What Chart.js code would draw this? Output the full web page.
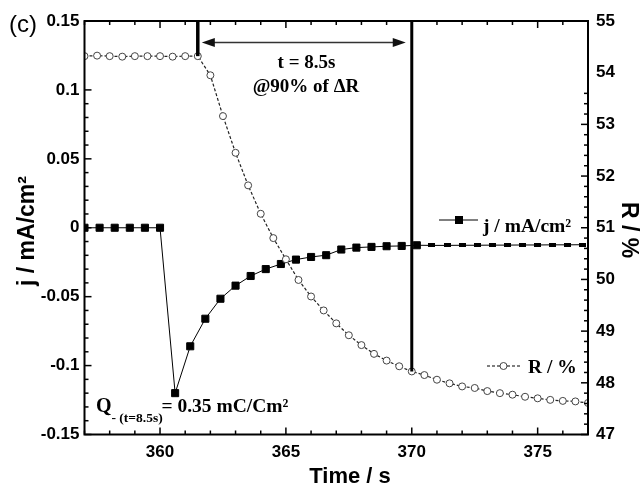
<!DOCTYPE html>
<html>
<head>
<meta charset="utf-8">
<script src="https://cdn.jsdelivr.net/npm/chart.js@4.4.1/dist/chart.umd.min.js"></script>
<style>
   html, body { margin: 0; padding: 0; background: #fff; }
   #wrap { width: 642px; height: 485px; }
</style>
</head>
<body>
<div id="wrap"><canvas id="chart" width="642" height="485"></canvas></div>
<script>
// current density j (mA/cm2), sampled every 0.6 s
var timeJ = [357, 357.6, 358.2, 358.8, 359.4, 360, 360.6, 361.2, 361.8, 362.4,
   363, 363.6, 364.2, 364.8, 365.4, 366, 366.6, 367.2, 367.8, 368.4,
   369, 369.6, 370.2, 370.8, 371.4, 372, 372.6, 373.2, 373.8, 374.4,
   375, 375.6, 376.2, 376.8];
var currentJ = [0, 0, 0, 0, 0, 0, -0.12, -0.086, -0.066, -0.0515,
   -0.042, -0.035, -0.030, -0.0263, -0.0231, -0.0212, -0.0199, -0.0158, -0.0144, -0.0139,
   -0.0134, -0.0132, -0.0127, -0.0128, -0.0128, -0.0127, -0.0127, -0.0126, -0.0126, -0.0125,
   -0.0125, -0.0124, -0.0124, -0.0123];

// reflectance R (%), sampled every 0.5 s
var timeR = [357, 357.5, 358, 358.5, 359, 359.5, 360, 360.5, 361, 361.5,
   362, 362.5, 363, 363.5, 364, 364.5, 365, 365.5, 366, 366.5,
   367, 367.5, 368, 368.5, 369, 369.5, 370, 370.5, 371, 371.5,
   372, 372.5, 373, 373.5, 374, 374.5, 375, 375.5, 376, 376.5, 377];
var reflR = [54.32, 54.33, 54.32, 54.31, 54.32, 54.32, 54.32, 54.31, 54.32, 54.32,
   53.95, 53.16, 52.45, 51.82, 51.27, 50.80, 50.39, 49.99, 49.67, 49.40,
   49.15, 48.92, 48.73, 48.56, 48.43, 48.32, 48.22, 48.15, 48.06, 47.99,
   47.93, 47.90, 47.84, 47.80, 47.77, 47.73, 47.70, 47.67, 47.65, 47.64, 47.61];

// labelled ticks on the time axis
var timeTicks = [360, 365, 370, 375];

// response window: start of switching and 90% of delta R
var tStart = 361.5;
var tEnd = 370;

var sans = '"Liberation Sans", Arial, sans-serif';
var serif = '"Liberation Serif", "Times New Roman", serif';

// small dash used for the last j points
var dashMark = document.createElement('canvas');
dashMark.width = 7;
dashMark.height = 4;
var dctx = dashMark.getContext('2d');
dctx.fillStyle = '#000';
dctx.fillRect(0, 0, 7, 4);

function toPoints(xs, ys) {
   var pts = [];
   for (var i = 0; i < xs.length; i++) {
      pts.push({ x: xs[i], y: ys[i] });
   }
   return pts;
}

function valueAt(xs, ys, t) {
   for (var i = 0; i < xs.length; i++) {
      if (Math.abs(xs[i] - t) < 1e-6) return ys[i];
   }
   return ys[ys.length - 1];
}

/* draws inward ticks for one side of the frame */
function drawTicks(ctx, scale, from, count, step, side, area) {
   for (var i = 0; i <= count; i++) {
      var v = from + i * step;
      var len = (i % 5 === 0) ? 7 : 4;
      var p = scale.getPixelForValue(v);
      if (p < area.left - 1 || p > area.right + 1) continue;
      ctx.beginPath();
      if (side === 'bottom') { ctx.moveTo(p, area.bottom); ctx.lineTo(p, area.bottom - len); }
      if (side === 'top') { ctx.moveTo(p, area.top); ctx.lineTo(p, area.top + len); }
      if (side === 'left') { ctx.moveTo(area.left, p); ctx.lineTo(area.left + len, p); }
      if (side === 'right') { ctx.moveTo(area.right, p); ctx.lineTo(area.right - len, p); }
      ctx.stroke();
   }
}

var framePlugin = {
   id: 'frame',
   afterDraw: function(chart) {
      var ctx = chart.ctx;
      var a = chart.chartArea;
      var xs = chart.scales.x, ys = chart.scales.y, rs = chart.scales.y1;

      ctx.save();
      ctx.strokeStyle = '#000';
      ctx.lineWidth = 1.5;
      // x ticks counted from 355 so majors (every 5th) land on 360, 365 ...
      drawTicks(ctx, xs, 355, 25, 1, 'bottom', a);
      drawTicks(ctx, xs, 355, 25, 1, 'top', a);
      drawTicks(ctx, ys, -0.15, 30, 0.01, 'left', a);
      drawTicks(ctx, rs, 47, 40, 0.2, 'right', a);

      ctx.lineWidth = 2;
      ctx.strokeRect(a.left, a.top, a.right - a.left, a.bottom - a.top);

      // thick markers at start and 90% point
      var x1 = xs.getPixelForValue(tStart);
      var x2 = xs.getPixelForValue(tEnd);
      ctx.lineWidth = 3.5;
      ctx.beginPath();
      ctx.moveTo(x1, a.top);
      ctx.lineTo(x1, rs.getPixelForValue(valueAt(timeR, reflR, tStart)));
      ctx.stroke();
      ctx.lineWidth = 3;
      ctx.beginPath();
      ctx.moveTo(x2, a.top);
      ctx.lineTo(x2, rs.getPixelForValue(valueAt(timeR, reflR, tEnd)));
      ctx.stroke();

      // double arrow between markers
      var ay = 42.5;
      var l = x1 + 4, r = x2 - 6;
      ctx.strokeStyle = '#333';
      ctx.fillStyle = '#111';
      ctx.lineWidth = 1.5;
      ctx.beginPath();
      ctx.moveTo(l + 8, ay);
      ctx.lineTo(r - 8, ay);
      ctx.stroke();
      ctx.beginPath();
      ctx.moveTo(l, ay); ctx.lineTo(l + 13, ay - 4.5); ctx.lineTo(l + 13, ay + 4.5);
      ctx.closePath(); ctx.fill();
      ctx.beginPath();
      ctx.moveTo(r, ay); ctx.lineTo(r - 13, ay - 4.5); ctx.lineTo(r - 13, ay + 4.5);
      ctx.closePath(); ctx.fill();

      ctx.fillStyle = '#000';
      ctx.textBaseline = 'alphabetic';

      // annotation text
      ctx.textAlign = 'center';
      ctx.font = 'bold 19px ' + serif;
      ctx.fillText('t = 8.5s', 306.5, 68);
      ctx.fillText('@90% of \u0394R', 306, 92);

      ctx.textAlign = 'left';
      ctx.font = 'bold 20px ' + serif;
      ctx.fillText('Q', 96, 411.5);
      ctx.font = 'bold 13.5px ' + serif;
      ctx.fillText('- (t=8.5s)', 111.5, 422);
      ctx.font = 'bold 19.5px ' + serif;
      ctx.fillText('= 0.35 mC/Cm\u00b2', 161.5, 411.5);

      // legend
      ctx.font = 'bold 19.5px ' + serif;
      ctx.strokeStyle = '#000';
      ctx.lineWidth = 1;
      ctx.setLineDash([]);
      ctx.beginPath(); ctx.moveTo(439, 220); ctx.lineTo(478, 220); ctx.stroke();
      ctx.fillRect(455, 216, 8, 8);
      ctx.fillText('j / mA/cm\u00b2', 483, 232);

      ctx.setLineDash([3, 2]);
      ctx.lineWidth = 1.2;
      ctx.beginPath(); ctx.moveTo(487, 366); ctx.lineTo(520, 366); ctx.stroke();
      ctx.setLineDash([]);
      ctx.fillStyle = '#fff';
      ctx.strokeStyle = '#444';
      ctx.lineWidth = 1;
      ctx.beginPath(); ctx.arc(503.5, 366, 3.5, 0, Math.PI * 2); ctx.fill(); ctx.stroke();
      ctx.fillStyle = '#000';
      ctx.fillText('R / %', 528, 372.5);

      // panel label and axis titles
      ctx.font = '24px ' + sans;
      ctx.fillText('(c)', 9, 32);

      ctx.font = 'bold 22px ' + sans;
      ctx.textAlign = 'center';
      ctx.fillText('Time / s', 350, 483);

      ctx.save();
      ctx.translate(34, 231);
      ctx.rotate(-Math.PI / 2);
      ctx.font = 'bold 23px ' + sans;
      ctx.fillText('j / mA/cm\u00b2', 0, 0);
      ctx.restore();

      ctx.save();
      ctx.translate(622, 230);
      ctx.rotate(Math.PI / 2);
      ctx.font = 'bold 23px ' + sans;
      ctx.fillText('R / %', 0, 0);
      ctx.restore();

      ctx.restore();
   }
};

var tickFont = { family: sans, size: 17, weight: 'bold' };

var ctx = document.getElementById('chart').getContext('2d');
var chart = new Chart(ctx, {
   type: 'line',
   data: {
      datasets: [{
         label: 'R / %',
         data: toPoints(timeR, reflR),
         yAxisID: 'y1',
         borderColor: '#222',
         borderWidth: 1.2,
         borderDash: [3, 2],
         pointStyle: 'circle',
         pointRadius: 3.5,
         pointBackgroundColor: '#fff',
         pointBorderColor: '#444',
         pointBorderWidth: 1,
         tension: 0
      }, {
         label: 'j / mA/cm\u00b2',
         data: toPoints(timeJ, currentJ),
         yAxisID: 'y',
         borderColor: '#000',
         borderWidth: 1,
         pointStyle: function(c) { return c.dataIndex > 22 ? dashMark : 'rect'; },
         pointRadius: 5,
         pointBackgroundColor: '#000',
         pointBorderColor: '#000',
         pointBorderWidth: 1,
         tension: 0
      }]
   },
   options: {
      responsive: false,
      animation: false,
      devicePixelRatio: 1,
      layout: { padding: { top: 21, left: 0, right: 0, bottom: 0 } },
      plugins: { legend: { display: false }, tooltip: { enabled: false } },
      scales: {
         x: {
            type: 'linear',
            position: 'bottom',
            min: 357,
            max: 377,
            grid: { display: false, drawTicks: false },
            border: { display: false },
            ticks: {
               autoSkip: false, maxRotation: 0,
               padding: 8, color: '#000', font: tickFont
            },
            afterBuildTicks: function(s) {
               s.ticks = timeTicks.map(function(v) { return { value: v }; });
            },
            afterFit: function(s) { s.height = 50.5; }
         },
         y: {
            position: 'left',
            min: -0.15,
            max: 0.15,
            grid: { display: false, drawTicks: false },
            border: { display: false },
            ticks: {
               stepSize: 0.05, autoSkip: false, padding: 5, color: '#000', font: tickFont,
               callback: function(v) { return String(Math.round(v * 100) / 100); }
            },
            afterFit: function(s) { s.width = 84.5; }
         },
         y1: {
            position: 'right',
            min: 47,
            max: 55,
            grid: { display: false, drawTicks: false },
            border: { display: false },
            ticks: {
               stepSize: 1, autoSkip: false, padding: 8, color: '#000', font: tickFont
            },
            afterFit: function(s) { s.width = 54; }
         }
      }
   },
   plugins: [framePlugin]
});
</script>
</body>
</html>
